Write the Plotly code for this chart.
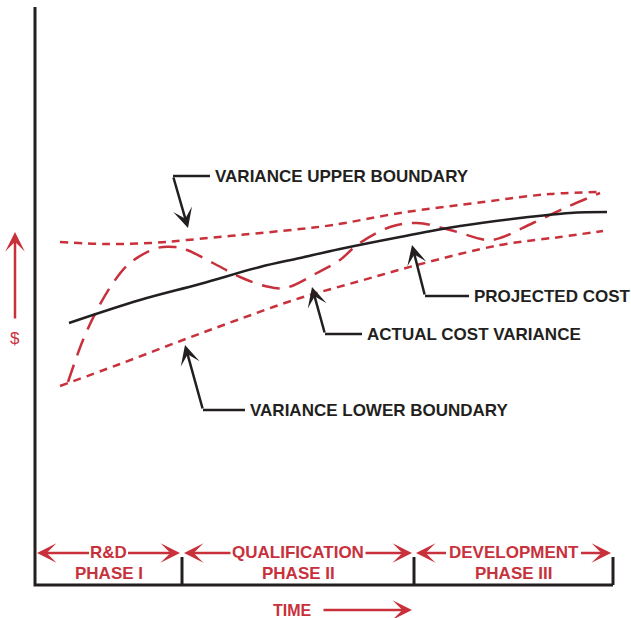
import plotly.graph_objects as go

# time / cost in arbitrary chart units
proj_t = [34, 105, 165, 225, 265, 305, 365, 425, 485, 535, 572]
proj_c = [262, 285, 301, 318, 327, 336, 348, 359, 367, 372, 373]

upper_t = [25, 72, 115, 152, 205, 265, 298, 365, 448, 515, 567]
upper_c = [343, 341, 342, 345, 350, 356, 360, 372, 383, 391, 393]

lower_t = [25, 85, 148, 205, 265, 325, 382, 465, 525, 568]
lower_c = [199, 221, 245, 266, 287, 304, 320, 340, 348, 354]

actual_t = [33, 48, 62, 78, 95, 122, 140, 152, 178, 205, 230, 250, 282, 305,
            322, 355, 382, 415, 452, 465, 498, 532, 565]
actual_c = [203, 245, 275, 302, 322, 337, 338, 335, 322, 308, 299, 297, 312,
            325, 340, 358, 362, 355, 345, 347, 362, 378, 392]

phase_edges = [0, 147, 379, 578]
phase_top = ["R&D", "QUALIFICATION", "DEVELOPMENT"]
phase_bottom = ["PHASE I", "PHASE II", "PHASE III"]
phase_half_width = [18, 66, 66]

callout_text = ["VARIANCE UPPER BOUNDARY", "PROJECTED COST",
                "ACTUAL COST VARIANCE", "VARIANCE LOWER BOUNDARY"]
callout_xy = [(178, 409), (437, 289), (330, 251), (213, 175)]
callout_corner = [(138, 409), (390, 289), (290, 251), (168, 175)]
callout_tip = [(153, 357), (377, 340), (277, 298), (150, 240)]

RED = "#c8313c"
BLACK = "#231f20"
FONT = "Liberation Sans"
HEAD = dict(showarrow=True, arrowhead=3, arrowsize=1.3, arrowwidth=2.5, standoff=0,
            xref="x", yref="y", axref="x", ayref="y", text="")

fig = go.Figure()

# axes
fig.add_trace(go.Scatter(x=[0, 0, phase_edges[-1]], y=[578, 0, 0], mode="lines",
                         line=dict(color=BLACK, width=3), hoverinfo="skip"))
for e in phase_edges[1:]:
    fig.add_trace(go.Scatter(x=[e, e], y=[0, 28], mode="lines",
                             line=dict(color=BLACK, width=3), hoverinfo="skip"))

fig.add_trace(go.Scatter(x=upper_t, y=upper_c, mode="lines", line_shape="spline",
                         line=dict(color=RED, width=2.5, dash="8px,6px")))
fig.add_trace(go.Scatter(x=lower_t, y=lower_c, mode="lines", line_shape="spline",
                         line=dict(color=RED, width=2.5, dash="8px,6px")))
fig.add_trace(go.Scatter(x=actual_t, y=actual_c, mode="lines", line_shape="spline",
                         line=dict(color=RED, width=2.5, dash="18px,10px")))
fig.add_trace(go.Scatter(x=proj_t, y=proj_c, mode="lines", line_shape="spline",
                         line=dict(color=BLACK, width=2.5)))

# callouts with elbow leaders
for txt, (tx, ty), (cx, cy), (px, py) in zip(callout_text, callout_xy, callout_corner, callout_tip):
    fig.add_trace(go.Scatter(x=[tx - 3, cx], y=[ty, cy], mode="lines",
                             line=dict(color=BLACK, width=2.5), hoverinfo="skip"))
    fig.add_annotation(x=px, y=py, ax=cx, ay=cy, arrowcolor=BLACK, **HEAD)
    fig.add_annotation(x=tx, y=ty, text=txt, showarrow=False, xanchor="left",
                       font=dict(family=FONT, size=17, color=BLACK, weight="bold"))

# phase labels
for i in range(3):
    left, right = phase_edges[i], phase_edges[i + 1]
    mid = (left + right) / 2
    hw = phase_half_width[i]
    fig.add_annotation(x=mid, y=33, text=phase_top[i], showarrow=False,
                       font=dict(family=FONT, size=17, color=RED, weight="bold"))
    fig.add_annotation(x=mid, y=12, text=phase_bottom[i], showarrow=False,
                       font=dict(family=FONT, size=17, color=RED, weight="bold"))
    for tail, tip in [(mid - hw, left + 2), (mid + hw, right - 2)]:
        fig.add_annotation(x=tip, y=32, ax=tail, ay=32, arrowcolor=RED, **HEAD)

# $ axis label
fig.add_annotation(x=-20, y=353, ax=-20, ay=265, arrowcolor=RED, **HEAD)
fig.add_annotation(x=-20, y=247, text="$", showarrow=False,
                   font=dict(family=FONT, size=17, color=RED))

# TIME label
fig.add_annotation(x=257, y=-25, text="TIME", showarrow=False,
                   font=dict(family=FONT, size=16, color=RED, weight="bold"))
fig.add_annotation(x=377, y=-25, ax=287, ay=-25, arrowcolor=RED, **HEAD)

fig.update_layout(
    width=631, height=618,
    margin=dict(l=0, r=0, t=0, b=0),
    paper_bgcolor="white", plot_bgcolor="white",
    showlegend=False,
    xaxis=dict(range=[-35, 596], visible=False, fixedrange=True),
    yaxis=dict(range=[-33, 585], visible=False, fixedrange=True),
)

# page body has a default 8px margin; drop it so the figure fills the window
fig.write_html("out.html", config={"displayModeBar": False},
               post_script="document.body.style.margin='0px';")
